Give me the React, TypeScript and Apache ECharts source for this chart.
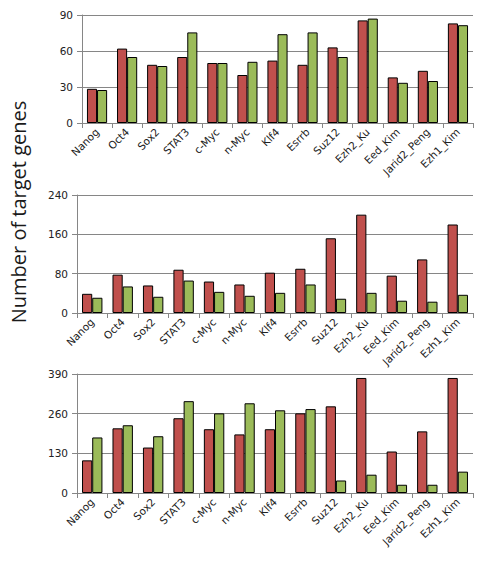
import React, { useEffect, useRef } from "react";
import * as echarts from "echarts";

const categories = ["Nanog", "Oct4", "Sox2", "STAT3", "c-Myc", "n-Myc", "Klf4", "Esrrb", "Suz12", "Ezh2_Ku", "Eed_Kim", "Jarid2_Peng", "Ezh1_Kim"];

const topRed = [28.5, 62, 48.5, 55, 50, 40, 52, 48.5, 63, 85.5, 38, 43.5, 83];
const topGreen = [27.5, 55, 47.5, 75.5, 50, 51, 74, 75.5, 55, 87, 33.5, 35, 81.5];

const midRed = [39, 78, 56, 88, 64, 58, 82, 90, 152, 200, 76, 109, 180];
const midGreen = [31, 54, 33, 66, 43, 35, 41, 58, 29, 41, 25, 23, 37];

const botRed = [107, 212, 149, 245, 209, 192, 209, 261, 284, 377, 136, 202, 377];
const botGreen = [182, 222, 186, 301, 261, 294, 271, 275, 41, 60, 27, 27, 70];

const yMax = [90, 240, 390];
const yInterval = [30, 80, 130];
const yTitle = "Number of target genes";

const RED = "#C0504D";
const GREEN = "#9BBB59";
const AXIS = "#868686";
const FONT = "DejaVu Sans";

export default function App() {
  const ref = useRef<HTMLDivElement>(null);
  useEffect(() => {
    const chart = echarts.init(ref.current!, null, { renderer: "svg" });
    const grids = [
      { left: 82, top: 15, width: 391, height: 108 },
      { left: 77, top: 195, width: 396, height: 118 },
      { left: 77, top: 374, width: 396, height: 119 },
    ];
    const data = [
      [topRed, topGreen],
      [midRed, midGreen],
      [botRed, botGreen],
    ];
    const option: any = {
      animation: false,
      grid: grids,
      xAxis: grids.map((_, i) => ({
        type: "category",
        gridIndex: i,
        data: categories,
        boundaryGap: true,
        axisLine: { lineStyle: { color: AXIS, width: 1 } },
        axisTick: { show: true, length: 5, lineStyle: { color: AXIS } },
        axisLabel: {
          rotate: 45,
          interval: 0,
          margin: 7,
          color: "#222",
          fontFamily: FONT,
          fontSize: 10.5,
        },
      })),
      yAxis: grids.map((_, i) => ({
        type: "value",
        gridIndex: i,
        min: 0,
        max: yMax[i],
        interval: yInterval[i],
        axisLine: { show: true, lineStyle: { color: AXIS, width: 1 } },
        axisTick: { show: true, length: 5, lineStyle: { color: AXIS } },
        splitLine: { show: true, lineStyle: { color: AXIS, width: 1 } },
        axisLabel: {
          margin: 9,
          color: "#222",
          fontFamily: FONT,
          fontSize: 10.5,
        },
      })),
      series: data.flatMap((pair, i) =>
        pair.map((vals, j) => ({
          type: "bar",
          xAxisIndex: i,
          yAxisIndex: i,
          data: vals,
          barGap: "0%",
          barCategoryGap: "33%",
          itemStyle: {
            color: j === 0 ? RED : GREEN,
            borderColor: "#000",
            borderWidth: 1,
          },
        }))
      ),
      graphic: [
        {
          type: "text",
          x: 18,
          y: 212,
          rotation: Math.PI / 2,
          style: {
            text: yTitle,
            fontFamily: "Open Sans",
            fontSize: 20,
            fill: "#1a1a1a",
            align: "center",
            verticalAlign: "middle",
          },
        },
      ],
    };
    chart.setOption(option);
    return () => chart.dispose();
  }, []);
  return (
    <div
      ref={ref}
      style={{ position: "fixed", left: 0, top: 0, width: 489, height: 568, background: "#fff" }}
    />
  );
}
